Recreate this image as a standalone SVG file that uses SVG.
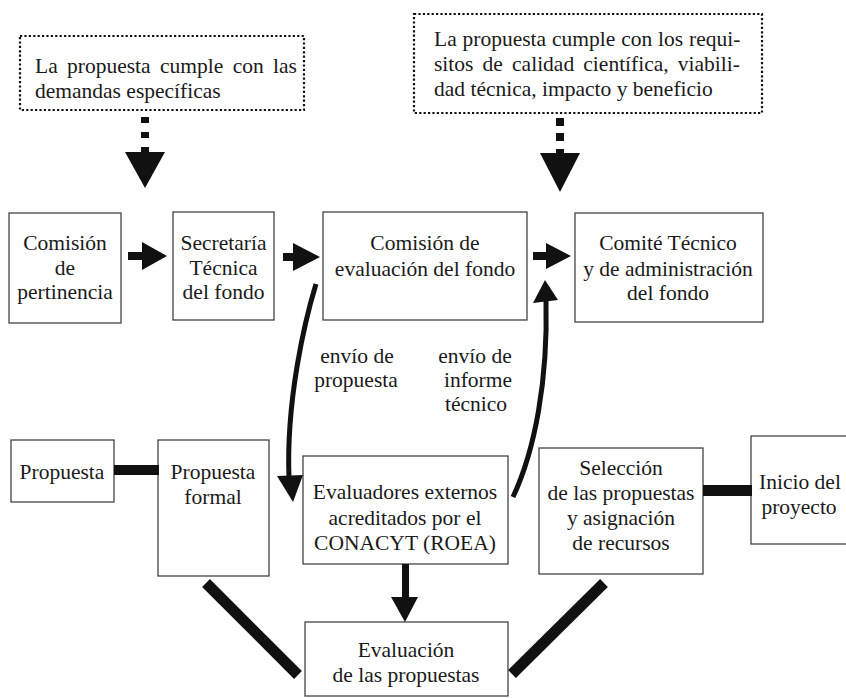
<svg xmlns="http://www.w3.org/2000/svg" width="846" height="698" viewBox="0 0 846 698">
<style>
text{font-family:"Liberation Serif","Times New Roman",serif;font-size:21.5px;fill:#1a1a1a}
.c{text-anchor:middle}
.box{fill:#fff;stroke:#444;stroke-width:1.3}
.dot{fill:#fff;stroke:#111;stroke-width:2.2;stroke-dasharray:2.2 2.2}
.ln{stroke:#111;fill:none}
.blk{fill:#111}
</style>
<rect width="846" height="698" fill="#fff"/>

<g id="req-left">
<rect class="dot" x="20" y="36" width="284" height="74"/>
<text x="35" y="73" word-spacing="4">La propuesta cumple con las</text>
<text x="35" y="98">demandas específicas</text>
</g>
<g id="req-right">
<rect class="dot" x="414" y="14" width="348" height="99"/>
<text x="434" y="46" word-spacing="0.5">La propuesta cumple con los requi-</text>
<text x="434" y="71" word-spacing="3.8">sitos de calidad científica, viabili-</text>
<text x="434" y="96">dad técnica, impacto y beneficio</text>
</g>

<g id="comision-pertinencia">
<rect class="box" x="9" y="213" width="112" height="110"/>
<text class="c" x="65" y="250">Comisión</text>
<text class="c" x="65" y="275">de</text>
<text class="c" x="65" y="299">pertinencia</text>
</g>
<g id="secretaria">
<rect class="box" x="173" y="212" width="101" height="108"/>
<text class="c" x="223.5" y="250">Secretaría</text>
<text class="c" x="223.5" y="275">Técnica</text>
<text class="c" x="223.5" y="299">del fondo</text>
</g>
<g id="comision-evaluacion">
<rect class="box" x="323" y="212" width="204" height="108"/>
<text class="c" x="425" y="250">Comisión de</text>
<text class="c" x="425" y="276">evaluación del fondo</text>
</g>
<g id="comite">
<rect class="box" x="575" y="213" width="188" height="109"/>
<text class="c" x="668" y="250">Comité Técnico</text>
<text class="c" x="668" y="276">y de administración</text>
<text class="c" x="668" y="300">del fondo</text>
</g>

<g id="propuesta">
<rect class="box" x="11" y="440" width="103" height="62"/>
<text class="c" x="62" y="479">Propuesta</text>
</g>
<g id="propuesta-formal">
<rect class="box" x="158" y="440" width="111" height="136"/>
<text class="c" x="213" y="479">Propuesta</text>
<text class="c" x="213" y="504">formal</text>
</g>
<g id="evaluadores">
<rect class="box" x="303" y="456" width="205" height="108"/>
<text class="c" x="405" y="499">Evaluadores externos</text>
<text class="c" x="405" y="525">acreditados por el</text>
<text class="c" x="405" y="550">CONACYT (ROEA)</text>
</g>
<g id="seleccion">
<rect class="box" x="539" y="448" width="164" height="126"/>
<text class="c" x="621" y="475">Selección</text>
<text class="c" x="621" y="500">de las propuestas</text>
<text class="c" x="621" y="525">y asignación</text>
<text class="c" x="621" y="550">de recursos</text>
</g>
<g id="inicio">
<rect class="box" x="751" y="436" width="110" height="108"/>
<text class="c" x="800" y="489">Inicio del</text>
<text class="c" x="799" y="514">proyecto</text>
</g>
<g id="evaluacion">
<rect class="box" x="305" y="622" width="203" height="74"/>
<text class="c" x="406" y="657">Evaluación</text>
<text class="c" x="406" y="682">de las propuestas</text>
</g>

<g id="labels">
<text class="c" x="357" y="363">envío de</text>
<text class="c" x="356" y="387">propuesta</text>
<text class="c" x="475" y="363">envío de</text>
<text class="c" x="478" y="387">informe</text>
<text class="c" x="476" y="411">técnico</text>
</g>

<g id="connectors">
<rect class="blk" x="141" y="117" width="8" height="6"/>
<rect class="blk" x="141" y="132" width="8" height="6"/>
<rect class="blk" x="141" y="147" width="8" height="6"/>
<polygon class="blk" points="125,152 165,152 145,188"/>
<rect class="blk" x="556" y="118" width="8" height="8"/>
<rect class="blk" x="556" y="133" width="8" height="8"/>
<rect class="blk" x="556" y="149" width="8" height="5"/>
<polygon class="blk" points="540,153 580,153 560,192"/>

<rect class="blk" x="128" y="252" width="15" height="8"/>
<polygon class="blk" points="142,242 167,256 142,270"/>
<rect class="blk" x="283" y="253" width="12" height="8"/>
<polygon class="blk" points="293,243 320,257 293,271"/>
<rect class="blk" x="533" y="252" width="14" height="8"/>
<polygon class="blk" points="546,243 571,256 546,269"/>

<path class="ln" stroke-width="5" d="M316,284 C305,320 286,400 289,478"/>
<polygon class="blk" points="277,476 303,475 293,502"/>
<path class="ln" stroke-width="5" d="M513,497 C535,450 548,380 546,301"/>
<polygon class="blk" points="533,303 558,300 545,280"/>

<rect class="blk" x="114" y="465" width="45" height="10"/>
<rect class="blk" x="703" y="485" width="49" height="11"/>

<rect class="blk" x="402" y="564" width="7" height="35"/>
<polygon class="blk" points="391,597 418,597 405,622"/>

<line class="ln" stroke-width="11" x1="206" y1="583" x2="298" y2="675"/>
<line class="ln" stroke-width="11" x1="604" y1="583" x2="512" y2="674"/>
</g>
</svg>
